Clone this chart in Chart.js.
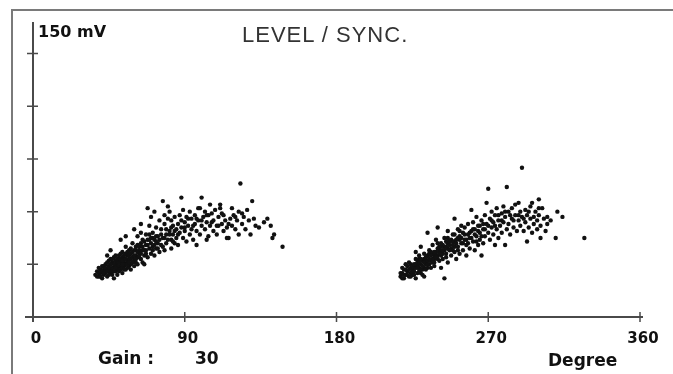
<!DOCTYPE html>
<html>
<head>
<meta charset="utf-8">
<title>LEVEL / SYNC.</title>
<script src="https://cdn.jsdelivr.net/npm/chart.js@4.4.1/dist/chart.umd.min.js"></script>
<style>
html, body { margin: 0; padding: 0; background: #fff; }
#wrap { position: relative; width: 673px; height: 374px; overflow: hidden; }
#frame { position: absolute; left: 11px; top: 9px; width: 700px; height: 400px;
         border-left: 2px solid #7a7a7a; border-top: 2px solid #7a7a7a; }
canvas { position: absolute; left: 0; top: 0; }
.lbl { position: absolute; font-family: "DejaVu Sans", sans-serif; font-weight: bold;
       color: #111; white-space: nowrap; line-height: 1; }
#title { position: absolute; left: 242px; top: 24px; font-family: "Liberation Sans", Arial, sans-serif;
         font-size: 22px; letter-spacing: 1px; color: #333; line-height: 1; white-space: nowrap; }
</style>
</head>
<body>
<div id="wrap">
  <div id="frame"></div>
  <canvas id="levelChart" width="673" height="374"></canvas>
  <div id="title">LEVEL / SYNC.</div>
  <div class="lbl" style="left:38px; top:24px; font-size:16px;">150 mV</div>
  <div class="lbl" style="left:98px; top:350px; font-size:17px;">Gain :</div>
  <div class="lbl" style="left:195px; top:350px; font-size:17px;">30</div>
  <div class="lbl" style="left:548px; top:352px; font-size:17px;">Degree</div>
</div>
<script>
// axis ticks
const xTicks = [0, 90, 180, 270, 360];
const yTicks = [30, 60, 90, 120, 150];

// first burst cluster: [phase in degrees, level in mV]
const burstA = [
    [37,24],[38,26],[39,23],[40,27],[40,25],[41,29],[42,24],[42,27],[41,22],[39,28],
    [43,25],[43,30],[44,27],[44,23],[45,29],[45,32],[46,25],[46,27],[47,31],[47,24],
    [48,28],[48,34],[49,26],[49,30],[50,27],[50,33],[44,35],[46,38],[48,22],[50,24],
    [51,29],[51,35],[52,27],[52,31],[53,25],[53,37],[54,29],[54,33],[55,27],[55,40],
    [56,31],[56,35],[57,29],[57,38],[58,33],[58,27],[52,44],[55,46],[53,34],[56,28],
    [42,29],[43,27],[45,26],[47,28],[49,32],[51,26],[52,29],[54,31],[55,30],[57,33],
    [58,30],[60,32],[61,35],[63,34],[44,31],[46,33],[48,30],[50,29],[53,28],[56,32],
    [38,23],[39,25],[40,23],[41,26],[42,25],[43,28],[44,26],[45,28],[45,24],[46,30],
    [47,26],[47,33],[48,26],[49,28],[49,35],[50,31],[51,31],[51,33],[52,33],[52,36],
    [53,30],[53,32],[54,35],[54,27],[55,33],[55,36],[56,37],[56,30],[57,31],[57,35],
    [58,36],[58,39],[59,34],[59,37],[60,38],[61,40],[61,31],[62,34],[62,41],[63,38],
    [59,31],[59,42],[60,35],[60,29],[61,38],[61,33],[62,46],[62,30],[63,36],[63,40],
    [64,33],[64,48],[65,38],[65,31],[66,43],[66,35],[60,50],[64,53],[62,37],[66,30],
    [64,36],[64,42],[65,40],[65,44],[66,38],[67,41],[67,36],[68,44],[69,39],[69,47],
    [67,38],[67,47],[68,41],[68,34],[69,52],[69,44],[70,36],[70,57],[71,40],[71,48],
    [72,35],[72,44],[73,51],[73,39],[74,46],[74,42],[75,55],[75,37],[68,62],[72,60],
    [70,42],[71,38],[71,45],[72,41],[73,46],[74,39],[75,44],[76,47],[77,40],[78,45],
    [70,45],[73,43],[76,41],[76,50],[77,66],[77,45],[78,38],[78,53],[79,47],[79,42],
    [80,63],[80,56],[81,60],[81,49],[82,44],[82,39],[83,52],[83,47],[84,57],[84,42],
    [79,50],[80,44],[81,47],[82,51],[83,43],[84,49],[86,47],[88,55],[90,51],[92,56],
    [85,50],[85,45],[78,58],[82,55],[86,53],[86,41],[87,48],[87,58],[88,68],[88,51],
    [89,61],[89,45],[90,54],[90,49],[91,43],[91,57],[92,52],[93,47],[93,60],[94,56],
    [94,50],[95,44],[96,53],[96,58],[97,49],[98,62],[98,55],[99,62],[99,47],[100,68],
    [95,52],[97,56],[100,55],[103,58],[106,54],[110,52],[112,59],[116,53],[120,57],[124,59],
    [100,52],[97,41],[101,57],[102,50],[102,60],[103,54],[104,46],[104,58],[105,64],[105,52],
    [106,59],[107,49],[107,55],[108,61],[109,52],[109,47],[110,57],[111,64],[111,62],[112,53],
    [113,49],[113,58],[114,55],[115,51],[115,45],[103,44],[116,45],[117,56],[118,62],[118,52],
    [119,58],[120,50],[121,55],[122,47],[122,60],[123,76],[124,53],[125,57],[126,50],[127,61],
    [128,55],[129,47],[130,66],[131,56],[132,52],[134,51],[137,54],[139,56],[141,52],[142,45],
    [143,47],[148,40]
];

// second burst cluster: [phase in degrees, level in mV]
const burstB = [
    [218,23],[219,25],[220,22],[220,27],[221,24],[222,26],[222,29],[223,23],[224,28],[224,25],
    [219,28],[221,30],[223,31],[225,24],[225,27],[224,30],[226,28],[228,32],[230,30],[232,28],
    [218,25],[219,22],[220,24],[221,27],[222,24],[223,27],[224,23],[225,26],[226,24],[227,28],
    [227,30],[228,30],[229,28],[229,33],[230,25],[231,32],[231,27],[232,33],[233,32],[234,28],
    [234,35],[236,32],[238,33],[240,35],[242,37],[244,40],[246,42],[248,39],[250,43],[252,45],
    [234,32],[235,30],[235,36],[236,37],[237,33],[238,35],[238,31],[239,37],[240,33],[240,42],
    [225,29],[229,26],[233,30],[237,36],[241,40],
    [241,38],[242,35],[242,40],[243,36],[243,41],[244,38],[245,43],[245,34],[246,39],[246,45],
    [226,30],[226,26],[227,22],[227,33],[227,37],[228,28],[228,25],[229,31],[229,35],[230,27],
    [230,33],[231,29],[231,24],[232,36],[232,31],[233,27],[233,34],[234,48],[234,30],[235,38],
    [235,33],[230,40],[232,23],[236,28],[236,35],[237,41],[237,31],[238,37],[238,29],[239,44],
    [247,41],[248,44],[249,38],[249,43],[250,40],[250,47],[251,42],[252,38],[253,44],[253,49],
    [239,34],[240,51],[240,39],[241,32],[241,36],[242,42],[242,28],[243,38],[243,33],[244,45],
    [244,22],[245,36],[245,40],[246,49],[246,31],[247,43],[247,38],[248,35],[249,47],[249,41],
    [254,45],[255,42],[256,47],[257,44],[258,42],[259,48],[260,45],[261,50],[262,47],[263,43],
    [250,56],[250,37],[251,44],[251,33],[252,50],[252,40],[253,46],[253,36],[254,42],[254,52],
    [255,38],[255,48],[256,51],[256,44],[257,35],[257,41],[258,47],[258,53],[259,39],[259,45],
    [264,49],[265,52],[266,46],[267,53],[268,50],[270,52],[272,55],[274,52],[276,58],[278,55],
    [260,61],[260,49],[261,43],[261,54],[262,38],[262,50],[263,46],[263,57],[264,41],[264,52],
    [265,48],[265,44],[266,35],[266,55],[267,50],[267,42],[268,58],[268,46],[269,65],[269,53],
    [270,73],[270,48],[271,44],[271,56],[272,51],[272,60],[273,47],[273,54],[274,41],[274,58],
    [275,62],[275,50],[276,55],[276,45],[277,52],[278,59],[278,48],[279,63],[279,54],[280,41],
    [280,60],[283,58],[285,55],[288,58],[291,56],[294,60],[297,57],[300,62],
    [280,57],[281,74],[281,50],[282,60],[282,53],[283,47],[284,56],[284,62],[285,51],[286,64],
    [286,58],[287,49],[288,65],[288,55],[289,60],[289,52],[290,85],[290,57],[291,49],[292,61],
    [292,54],[293,43],[293,58],[294,51],[295,63],[295,56],[296,65],[296,48],[297,53],[298,60],
    [299,55],[299,50],[300,67],[300,58],[301,45],[301,52],[302,62],[303,56],[304,49],[305,57],
    [305,53],[307,55],[310,45],[311,60],[314,57],[327,45]
];

// axes drawn as crosses like the instrument screen
const axesPlugin = {
    id: 'scopeAxes',
    beforeDatasetsDraw(chart) {
        const ctx = chart.ctx;
        const x = chart.scales.x;
        const y = chart.scales.y;
        const x0 = x.getPixelForValue(0);
        const y0 = y.getPixelForValue(0);
        ctx.save();
        ctx.strokeStyle = '#4a4a4a';
        ctx.lineWidth = 2;
        ctx.beginPath();
        ctx.moveTo(x0, y.top);
        ctx.lineTo(x0, y0 + 5);
        ctx.moveTo(x0 - 8, y0);
        ctx.lineTo(x.right + 3, y0);
        ctx.stroke();

        ctx.lineWidth = 1.5;
        ctx.beginPath();
        yTicks.forEach(function(v) {
            const py = y.getPixelForValue(v);
            ctx.moveTo(x0 - 6, py);
            ctx.lineTo(x0 + 5, py);
        });
        xTicks.slice(1).forEach(function(v) {
            const px = x.getPixelForValue(v);
            ctx.moveTo(px, y0 - 5);
            ctx.lineTo(px, y0 + 5);
        });
        ctx.stroke();

        ctx.fillStyle = '#111';
        ctx.font = 'bold 15px "DejaVu Sans"';
        ctx.textAlign = 'center';
        ctx.textBaseline = 'middle';
        xTicks.forEach(function(v) {
            ctx.fillText(String(v), x.getPixelForValue(v) + 3, y0 + 22);
        });
        ctx.restore();
    }
};

const toPoints = arr => arr.map(p => ({ x: p[0], y: p[1] }));

const ctx = document.getElementById('levelChart').getContext('2d');
const levelChart = new Chart(ctx, {
    type: 'scatter',
    data: {
        datasets: [{
            label: 'Burst A',
            data: toPoints(burstA),
            backgroundColor: '#111',
            borderWidth: 0,
            pointRadius: 2.2
        }, {
            label: 'Burst B',
            data: toPoints(burstB),
            backgroundColor: '#111',
            borderWidth: 0,
            pointRadius: 2.2
        }]
    },
    options: {
        responsive: false,
        animation: false,
        layout: {
            padding: { left: 33, right: 33, top: 22, bottom: 57 }
        },
        plugins: {
            legend: { display: false },
            tooltip: { enabled: false }
        },
        scales: {
            x: { type: 'linear', min: 0, max: 360, display: false },
            y: { type: 'linear', min: 0, max: 168, display: false }
        }
    },
    plugins: [axesPlugin]
});
</script>
</body>
</html>
